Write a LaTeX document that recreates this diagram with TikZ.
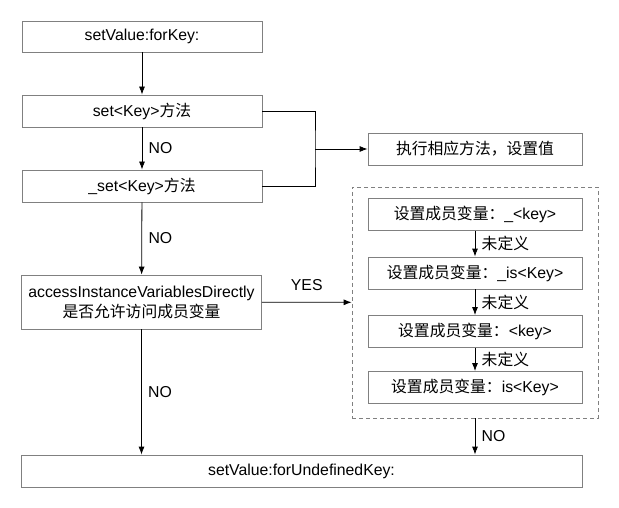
\documentclass[tikz,border=0pt]{standalone}
\usepackage{fontspec}
\setmainfont{Liberation Sans}
\newfontfamily\cjk{Noto Sans CJK SC}
\usetikzlibrary{arrows.meta}

\begin{document}
\begin{tikzpicture}[x=1pt,y=-1pt,
  box/.style={draw=gray,line width=0.8pt,minimum width=240pt,minimum height=32pt,
    inner sep=0pt,align=center,font=\fontsize{15.8}{20}\selectfont},
  varbox/.style={box,minimum width=214pt},
  arr/.style={line width=0.8pt,-{Latex[length=8pt,width=6pt]}},
  lbl/.style={midway,right,xshift=3pt,font=\fontsize{15.8}{20}\selectfont}]

  \useasboundingbox (0,0) rectangle (619,508);

  % left column
  \node[box,minimum height=31pt] (forkey) at (142,36.5) {setValue:forKey:};
  \node[box] (setter) at (142,111) {set<Key>{\cjk 方法}};
  \node[box] (usetter) at (142,186) {\_set<Key>{\cjk 方法}};
  \node[box,minimum height=54pt] (access) at (141.5,302)
    {accessInstanceVariablesDirectly\\{\cjk 是否允许访问成员变量}};
  \node[box,minimum width=561pt] (undef) at (301.5,471) {setValue:forUndefinedKey:};

  % right column
  \node[varbox] (exec) at (475,149) {{\cjk 执行相应方法，设置值}};
  \node[draw=gray,line width=0.8pt,dash pattern=on 4pt off 3pt,
    minimum width=246pt,minimum height=231pt] (frame) at (475,302.5) {};
  \node[varbox] (var1) at (475,214.5) {{\cjk 设置成员变量：}\_<key>};
  \node[varbox] (var2) at (475,273) {{\cjk 设置成员变量：}\_is<Key>};
  \node[varbox] (var3) at (475,331.5) {{\cjk 设置成员变量：}<key>};
  \node[varbox] (var4) at (475,387.5) {{\cjk 设置成员变量：}is<Key>};

  \coordinate (join) at (315,149);

  \draw[arr] (forkey) -- (setter);
  \draw[arr] (setter) -- node[lbl] {NO} (usetter);
  \draw[arr] (usetter) -- node[lbl] {NO} (access);
  \draw[arr] (access.south) -- node[lbl] {NO} (access.south |- undef.north);
  \draw[arr] (access) -- node[above,yshift=8pt,font=\fontsize{15.8}{20}\selectfont] {YES} (frame);

  \draw[line width=0.8pt] (setter.east) -| (join) |- (usetter.east);
  \draw[arr] (join) -- (exec);

  \draw[arr] (var1) -- node[lbl] {\cjk 未定义} (var2);
  \draw[arr] (var2) -- node[lbl] {\cjk 未定义} (var3);
  \draw[arr] (var3) -- node[lbl] {\cjk 未定义} (var4);
  \draw[arr] (frame.south) -- node[lbl] {NO} (frame.south |- undef.north);

\end{tikzpicture}
\end{document}
